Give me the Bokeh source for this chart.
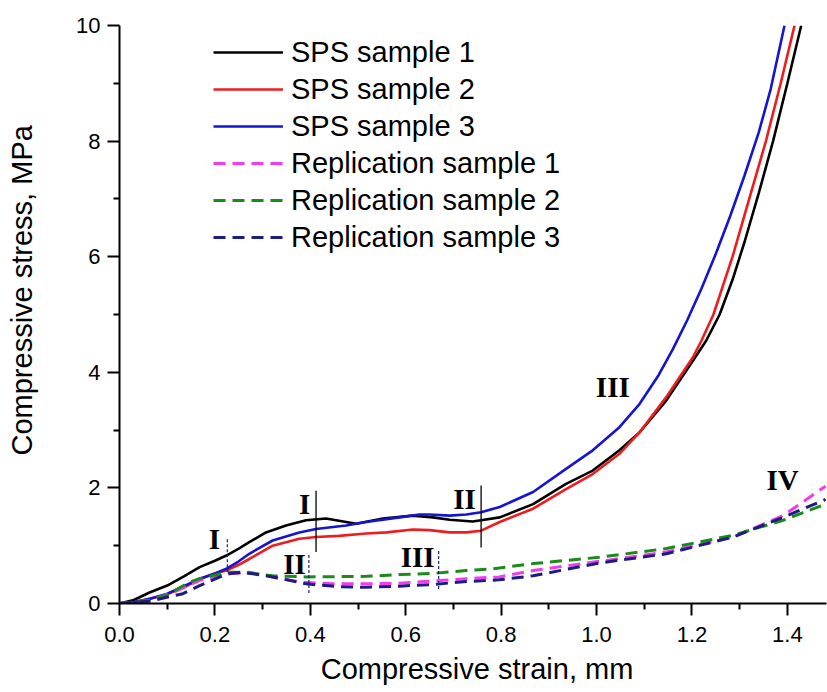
from bokeh.plotting import figure
from bokeh.models import (Range1d, Legend, LegendItem, FixedTicker, PrintfTickFormatter,
                          ColumnDataSource)
from bokeh.core.properties import value
from bokeh.embed import file_html
from bokeh.resources import INLINE

# ---------------- data ----------------
sps1_x = [0, 0.03, 0.063, 0.1, 0.135, 0.168, 0.2, 0.224, 0.25, 0.272, 0.307, 0.349, 0.391, 0.433,
          0.475, 0.496, 0.552, 0.615, 0.657, 0.692, 0.74, 0.758, 0.797, 0.867, 0.936, 0.992, 1.048,
          1.09, 1.146, 1.202, 1.23, 1.258, 1.285, 1.31, 1.34, 1.37, 1.40, 1.429]
sps1_y = [0, 0.06, 0.19, 0.31, 0.47, 0.63, 0.74, 0.83, 0.95, 1.06, 1.23, 1.35, 1.44, 1.47,
          1.41, 1.38, 1.47, 1.52, 1.49, 1.45, 1.42, 1.44, 1.49, 1.72, 2.07, 2.30, 2.65,
          2.96, 3.51, 4.20, 4.55, 5.0, 5.6, 6.25, 7.1, 8.0, 9.0, 10.0]

sps2_x = [0, 0.03, 0.063, 0.1, 0.135, 0.168, 0.2, 0.224, 0.25, 0.272, 0.321, 0.377, 0.412, 0.46,
          0.517, 0.56, 0.615, 0.65, 0.692, 0.727, 0.758, 0.797, 0.867, 0.936, 0.992, 1.048, 1.09,
          1.146, 1.202, 1.22, 1.245, 1.285, 1.32, 1.355, 1.386, 1.415]
sps2_y = [0, 0.02, 0.08, 0.16, 0.28, 0.42, 0.52, 0.57, 0.67, 0.77, 1.0, 1.12, 1.15, 1.17,
          1.21, 1.23, 1.28, 1.27, 1.23, 1.23, 1.26, 1.41, 1.64, 1.98, 2.24, 2.59, 2.96,
          3.57, 4.26, 4.55, 5.0, 6.0, 7.0, 8.0, 9.0, 10.0]

sps3_x = [0, 0.03, 0.063, 0.1, 0.135, 0.168, 0.2, 0.224, 0.25, 0.272, 0.321, 0.377, 0.412, 0.475,
          0.517, 0.587, 0.629, 0.65, 0.692, 0.727, 0.758, 0.797, 0.867, 0.936, 0.992, 1.048, 1.09,
          1.13, 1.16, 1.19, 1.22, 1.25, 1.28, 1.31, 1.34, 1.365, 1.394]
sps3_y = [0, 0.02, 0.08, 0.17, 0.30, 0.43, 0.52, 0.60, 0.73, 0.86, 1.09, 1.23, 1.29, 1.35,
          1.41, 1.49, 1.54, 1.54, 1.52, 1.54, 1.58, 1.67, 1.93, 2.33, 2.65, 3.05, 3.45,
          3.95, 4.40, 4.90, 5.45, 6.05, 6.7, 7.4, 8.15, 8.9, 10.0]

rep1_x = [0, 0.063, 0.12, 0.168, 0.224, 0.272, 0.321, 0.377, 0.447, 0.517, 0.587, 0.657, 0.727,
          0.796, 0.867, 1.006, 1.146, 1.286, 1.391, 1.48]
rep1_y = [0, 0.05, 0.22, 0.40, 0.51, 0.54, 0.46, 0.37, 0.34, 0.34, 0.35, 0.39, 0.43,
          0.46, 0.57, 0.73, 0.89, 1.15, 1.52, 2.03]

rep2_x = [0, 0.063, 0.1, 0.147, 0.168, 0.224, 0.258, 0.321, 0.391, 0.517, 0.587, 0.657, 0.727,
          0.782, 0.867, 1.006, 1.146, 1.286, 1.391, 1.48]
rep2_y = [0, 0.06, 0.15, 0.37, 0.43, 0.54, 0.54, 0.48, 0.46, 0.47, 0.50, 0.52, 0.57,
          0.60, 0.69, 0.80, 0.95, 1.18, 1.44, 1.72]

rep3_x = [0, 0.063, 0.133, 0.168, 0.224, 0.258, 0.321, 0.391, 0.461, 0.517, 0.587, 0.657, 0.727,
          0.796, 0.867, 1.006, 1.146, 1.286, 1.391, 1.48]
rep3_y = [0, 0.04, 0.17, 0.31, 0.51, 0.54, 0.46, 0.34, 0.29, 0.28, 0.30, 0.33, 0.38,
          0.41, 0.48, 0.70, 0.86, 1.15, 1.49, 1.80]

series_names = ["SPS sample 1", "SPS sample 2", "SPS sample 3",
                "Replication sample 1", "Replication sample 2", "Replication sample 3"]

# stage annotations
stage_text = ["I", "II", "III", "I", "II", "III", "IV"]
stage_x = [0.388, 0.723, 1.034, 0.199, 0.367, 0.625, 1.39]
stage_y = [1.73, 1.80, 3.75, 1.12, 0.69, 0.80, 2.13]

solid_mark_x = [0.412, 0.758]
solid_mark_y0 = [0.89, 0.97]
solid_mark_y1 = [1.95, 2.04]

dot_mark_x = [0.226, 0.397, 0.669]
dot_mark_y0 = [0.54, 0.18, 0.25]
dot_mark_y1 = [1.12, 0.86, 0.92]

x_ticks = [0.0, 0.2, 0.4, 0.6, 0.8, 1.0, 1.2, 1.4]
x_minor = [0.1, 0.3, 0.5, 0.7, 0.9, 1.1, 1.3]
y_ticks = [0, 2, 4, 6, 8, 10]
y_minor = [1, 3, 5, 7, 9]

x_title = "Compressive strain, mm"
y_title = "Compressive stress, MPa"

# ---------------- figure ----------------
W, H = 827, 692
LEFT, TOP, RIGHT, BOTTOM = 119, 25, 1, 89
X_END = 1.482

p = figure(width=W, height=H, output_backend="svg", toolbar_location=None,
           x_range=Range1d(0, X_END), y_range=Range1d(0, 10),
           min_border_left=LEFT, min_border_right=RIGHT, min_border_top=TOP,
           min_border_bottom=BOTTOM)
p.outline_line_color = None
p.xgrid.visible = False
p.ygrid.visible = False
p.background_fill_color = "white"

FONT = "Liberation Sans"
NBSP = "\u00a0"

for ax in (p.xaxis[0], p.yaxis[0]):
    ax.axis_line_width = 2
    ax.axis_line_color = "black"
    ax.major_tick_line_width = 2
    ax.minor_tick_line_width = 2
    ax.major_tick_in = 0
    ax.major_tick_out = 12
    ax.minor_tick_in = 0
    ax.minor_tick_out = 6
    ax.major_label_text_font = FONT
    ax.major_label_text_font_size = "22px"
    ax.major_label_text_color = "black"
    ax.axis_label_text_font = FONT
    ax.axis_label_text_font_style = "normal"
    ax.axis_label_text_color = "black"

p.xaxis.ticker = FixedTicker(ticks=x_ticks, minor_ticks=x_minor)
p.yaxis.ticker = FixedTicker(ticks=y_ticks, minor_ticks=y_minor)
p.xaxis.formatter = PrintfTickFormatter(format="%.1f")
p.yaxis.formatter = PrintfTickFormatter(format="%d")
p.xaxis.major_label_standoff = 11
p.yaxis.major_label_standoff = 7

# axis titles; leading no-break spaces nudge them along the axis like the reference
p.xaxis.axis_label = NBSP + x_title
p.xaxis.axis_label_text_font_size = "29px"
p.xaxis.axis_label_standoff = 8
p.yaxis.axis_label = NBSP * 6 + y_title
p.yaxis.axis_label_text_font_size = "29px"
p.yaxis.axis_label_standoff = 35

colors = ["#000000", "#ee1c1c", "#1414d2", "#ee3cee", "#1b8a1b", "#1c1c82"]
xs = [sps1_x, sps2_x, sps3_x, rep1_x, rep2_x, rep3_x]
ys = [sps1_y, sps2_y, sps3_y, rep1_y, rep2_y, rep3_y]

renderers = []
for i in range(6):
    if i < 3:
        r = p.line(xs[i], ys[i], line_color=colors[i], line_width=2.6)
    else:
        r = p.line(xs[i], ys[i], line_color=colors[i], line_width=3, line_dash="12 7")
    renderers.append(r)

# stage marker lines
p.segment(x0=solid_mark_x, y0=solid_mark_y0, x1=solid_mark_x, y1=solid_mark_y1,
          line_color="black", line_width=1.3)
p.segment(x0=dot_mark_x, y0=dot_mark_y0, x1=dot_mark_x, y1=dot_mark_y1,
          line_color="#1c1c82", line_width=1.2, line_dash="3 2")

src = ColumnDataSource(dict(x=stage_x, y=stage_y, t=stage_text))
p.text(x="x", y="y", text="t", source=src, text_font=value("Liberation Serif"),
       text_font_style="bold", text_font_size="29px", text_align="center",
       text_baseline="middle", text_color="black")

frame_h = H - TOP - BOTTOM
row_h, row_gap, top_off = 34, 3, 10
legend_h = 6 * row_h + 5 * row_gap
legend = Legend(items=[LegendItem(label=series_names[i], renderers=[renderers[i]]) for i in range(6)],
                location=(94, frame_h - top_off - legend_h))
legend.margin = 0
legend.padding = 0
legend.border_line_color = None
legend.background_fill_alpha = 0
legend.glyph_width = 70
legend.glyph_height = row_h
legend.label_height = row_h
legend.spacing = row_gap
legend.label_standoff = 8
legend.label_text_font = FONT
legend.label_text_font_size = "29px"
legend.label_text_color = "black"
p.add_layout(legend)

open("out.html", "w").write(file_html(p, INLINE))
